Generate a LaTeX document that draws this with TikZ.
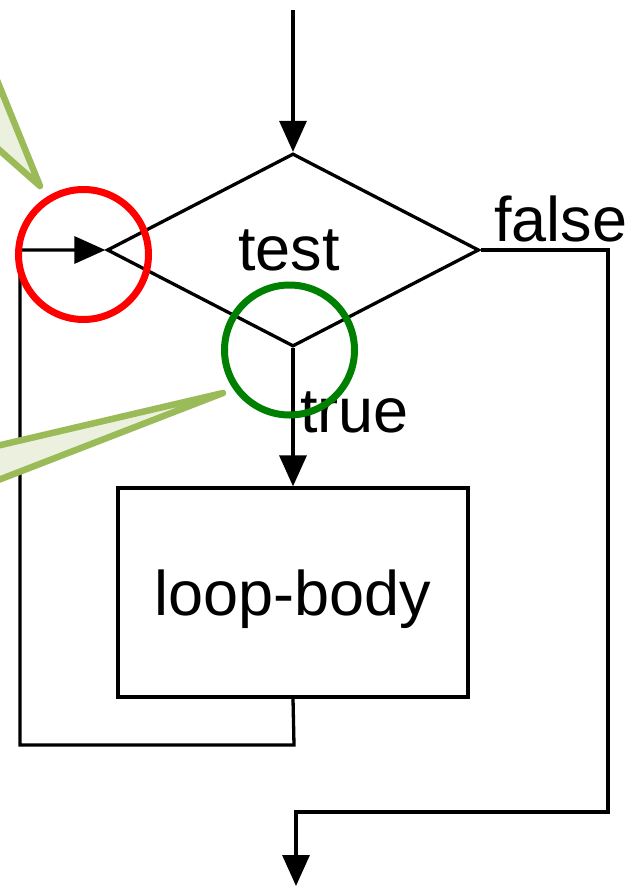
\documentclass[tikz,border=0pt]{standalone}
\usepackage{fontspec}
\setmainfont{Liberation Sans}
\usetikzlibrary{arrows.meta,shapes.geometric,shadows}
\definecolor{calloutfill}{HTML}{EBF1DE}
\definecolor{calloutline}{HTML}{9BBB59}
\definecolor{markgreen}{HTML}{008000}
\tikzset{
  flow/.style={line width=3.3pt, line join=miter},
  arr/.style={flow, -{Triangle[length=31pt,width=27pt]}},
  lbl/.style={font=\fontsize{63}{70}\selectfont, inner sep=0pt},
  callout/.style={fill=calloutfill, draw=calloutline, line width=6.5pt, line join=round,
    drop shadow={opacity=0.25, shadow xshift=2pt, shadow yshift=-2pt}},
  ring/.style={circle, draw, line width=7pt, inner sep=0pt, minimum size=130pt},
}
\begin{document}
\begin{tikzpicture}[x=1pt, y=-1pt]
  \useasboundingbox (0,0) rectangle (634,886);
  \clip (0,0) rectangle (634,886);

  % decision and process
  \node[diamond, draw, line width=3.3pt, minimum width=372pt, minimum height=193pt,
        inner sep=0pt, lbl] (d) at (293,250) {\hspace*{-8pt}test};
  \node[rectangle, draw, line width=3.3pt, minimum width=350pt, minimum height=209pt,
        text depth=0pt, lbl] (b) at (293,592.5) {loop-body};

  % entry
  \coordinate (entry) at (293,10);
  \draw[arr] (entry) -- (d.north);

  % true branch
  \draw[arr] (d.south) -- (b.north);
  \node[lbl, anchor=base west] (ltrue) at (300,432) {true};

  % false branch to exit
  \node[lbl, anchor=base west] (lfalse) at (494,241) {false};
  \coordinate (fr) at (608,812);
  \coordinate (fb) at (296,812);
  \coordinate (exit) at (296,886);
  \draw[arr] (d.east) -| (fr) -- (fb) -- (exit);

  % loop back to the test
  \coordinate (lb) at (294,745);
  \coordinate (ll) at (20,745);
  \coordinate (lt) at (20,250);
  \draw[arr] (b.south) -- (lb) -- (ll) -- (lt) -- (d.west);

  % callout pointers
  \path[callout] (-12,58) -- (40,186) -- (-12,140) -- cycle;
  \path[callout] (-12,448) -- (223,393) -- (-12,484) -- cycle;

  % highlight rings
  \node[ring, draw=red] (rred) at (83.5,254.5) {};
  \node[ring, draw=markgreen] (rgreen) at (289.5,350) {};
\end{tikzpicture}
\end{document}
